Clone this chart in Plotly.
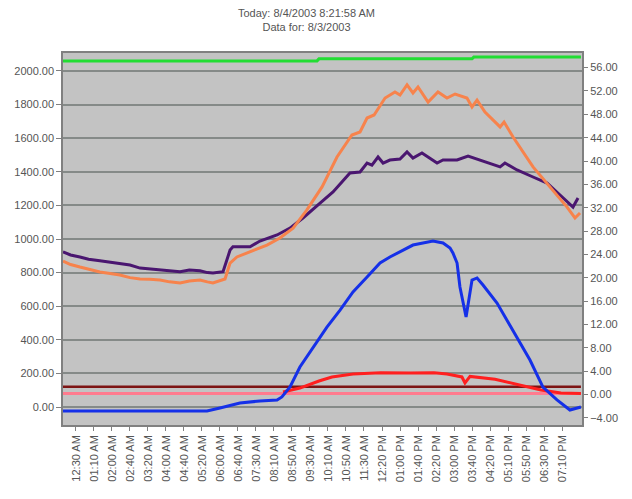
import plotly.graph_objects as go

# x positions are in "tick-label units" (0 = first tick label, 27 = last)
x_labels = ["12:30 AM", "01:10 AM", "02:00 AM", "02:40 AM", "03:20 AM", "04:00 AM", "04:40 AM",
            "05:20 AM", "06:00 AM", "06:40 AM", "07:30 AM", "08:10 AM", "08:50 AM", "09:30 AM",
            "10:10 AM", "10:50 AM", "11:30 AM", "12:20 PM", "01:00 PM", "01:40 PM", "02:20 PM",
            "03:00 PM", "03:40 PM", "04:20 PM", "05:10 PM", "05:50 PM", "06:30 PM", "07:10 PM"]

purple_x = [-0.72, -0.3, 0.22, 0.7, 1.33, 1.9, 2.44, 3.0, 3.56, 4.1, 4.67, 5.2, 5.78, 6.3, 6.89,
            7.3, 7.61, 8.17, 8.56, 8.72, 9.67, 10.22, 11.17, 11.89, 12.61, 13.56, 14.28, 15.22,
            15.78, 16.17, 16.44, 16.78, 17.06, 17.44, 18.0, 18.39, 18.72, 19.22, 19.56, 20.06,
            20.39, 21.17, 21.78, 22.44, 22.89, 23.56, 23.83, 24.5, 25.39, 26.17, 26.89, 27.61, 27.89]
purple_y = [924, 905, 893, 880, 871, 862, 851, 845, 827, 822, 815, 812, 805, 815, 811,
            800, 797, 805, 934, 954, 954, 988, 1024, 1065, 1125, 1214, 1280, 1393,
            1399, 1452, 1440, 1488, 1452, 1470, 1476, 1518, 1482, 1512, 1488, 1452,
            1470, 1470, 1494, 1470, 1452, 1429, 1452, 1411, 1369, 1333, 1262, 1190, 1244]

orange_x = [-0.72, -0.3, 0.22, 0.7, 1.33, 1.9, 2.44, 3.0, 3.56, 4.1, 4.67, 5.2, 5.78, 6.3, 6.89,
            7.3, 7.61, 8.28, 8.56, 8.94, 9.67, 10.61, 11.33, 12.06, 12.83, 13.67, 14.5, 15.33,
            15.78, 16.17, 16.56, 17.17, 17.72, 18.0, 18.39, 18.72, 19.0, 19.56, 20.11, 20.61,
            21.06, 21.72, 22.0, 22.28, 22.72, 23.56, 23.78, 24.28, 25.39, 26.5, 27.28, 27.72, 28.0]
orange_y = [869, 848, 833, 820, 804, 795, 786, 770, 762, 760, 756, 745, 738, 750, 756,
            745, 738, 762, 857, 893, 923, 964, 1006, 1065, 1173, 1310, 1488, 1619,
            1637, 1720, 1738, 1839, 1875, 1857, 1917, 1869, 1905, 1815, 1875, 1839,
            1863, 1839, 1786, 1827, 1756, 1667, 1696, 1607, 1429, 1292, 1190, 1125, 1155]

blue_x = [-0.72, 7.28, 8.0, 9.11, 10.22, 11.17, 11.44, 11.89, 12.44, 13.17, 13.94, 14.67,
          15.39, 16.17, 16.89, 17.44, 18.17, 18.72, 19.83, 20.39, 20.78, 20.94, 21.17, 21.33,
          21.67, 21.78, 22.0, 22.28, 22.61, 23.39, 24.28, 25.22, 25.94, 26.72, 27.44, 27.83, 28.05]
blue_y = [-24, -24, -6, 24, 36, 42, 60, 119, 238, 357, 476, 577,
          685, 774, 857, 893, 935, 964, 988, 976, 946, 917, 857, 714,
          536, 619, 756, 768, 726, 619, 458, 280, 119, 42, -18, -6, 0]

red_x = [11.5, 12.44, 13.5, 14.22, 15.39, 16.94, 18.56, 19.89, 20.61, 21.44, 21.61, 21.89,
         23.28, 24.72, 25.83, 26.94, 28.05]
red_y = [89, 113, 155, 179, 196, 204, 202, 204, 196, 179, 143, 182,
         165, 131, 101, 83, 80]

pink_x = [-0.72, 28.05]
pink_y = [80, 80]

darkred_x = [-0.72, 28.05]
darkred_y = [120, 120]

green_x = [-0.72, 13.39, 13.5, 22.0, 22.1, 28.05]
green_y = [57.15, 57.15, 57.5, 57.5, 57.8, 57.8]

left_ticks = list(range(0, 2001, 200))
right_ticks = list(range(-4, 57, 4))

fig = go.Figure()
fig.add_trace(go.Scatter(x=darkred_x, y=darkred_y, mode="lines",
                         line=dict(color="#7d1414", width=2.5)))
fig.add_trace(go.Scatter(x=pink_x, y=pink_y, mode="lines",
                         line=dict(color="#ff7b8e", width=3)))
fig.add_trace(go.Scatter(x=red_x, y=red_y, mode="lines",
                         line=dict(color="#ff1f1f", width=3)))
fig.add_trace(go.Scatter(x=blue_x, y=blue_y, mode="lines",
                         line=dict(color="#1530e8", width=3)))
fig.add_trace(go.Scatter(x=purple_x, y=purple_y, mode="lines",
                         line=dict(color="#4a1670", width=3)))
fig.add_trace(go.Scatter(x=orange_x, y=orange_y, mode="lines",
                         line=dict(color="#f7834c", width=3)))
fig.add_trace(go.Scatter(x=green_x, y=green_y, mode="lines", yaxis="y2",
                         line=dict(color="#22dd33", width=3)))

fig.update_layout(
    width=624, height=491,
    margin=dict(l=55, r=50, t=45, b=74),
    paper_bgcolor="white",
    plot_bgcolor="#c3c3c3",
    showlegend=False,
    font=dict(family="Liberation Sans, Arial, sans-serif", size=11, color="#555555"),
    xaxis=dict(range=[-0.72, 28.11], tickmode="array",
               tickvals=list(range(len(x_labels))), ticktext=x_labels,
               tickangle=-90, showgrid=False, zeroline=False,
               ticks="outside", ticklen=4, tickcolor="#808080",
               showline=True, mirror=True, linecolor="#808080", linewidth=1.5,
               tickfont=dict(size=11, color="#555555"), automargin=False),
    yaxis=dict(range=[-107, 2107], tickmode="array", tickvals=left_ticks,
               tickformat=".2f", showgrid=True, gridcolor="#858a88", gridwidth=1.5,
               zeroline=False, ticks="outside", ticklen=5, tickcolor="#808080",
               showline=True, mirror=True, linecolor="#808080", linewidth=1.5,
               tickfont=dict(size=11, color="#555555"), automargin=False),
    yaxis2=dict(range=[-5.2, 58.5], overlaying="y", side="right",
                tickmode="array", tickvals=right_ticks, tickformat=".2f",
                showgrid=False, zeroline=False, ticks="outside", ticklen=5,
                tickcolor="#808080", tickfont=dict(size=11, color="#555555"),
                automargin=False),
)

fig.add_annotation(text="Today: 8/4/2003 8:21:58 AM<br>Data for: 8/3/2003",
                   xref="paper", yref="paper", x=0.47, y=1.0, yshift=48,
                   xanchor="center", yanchor="top", showarrow=False,
                   font=dict(size=11, color="#555555"))

fig.write_html("out.html")
